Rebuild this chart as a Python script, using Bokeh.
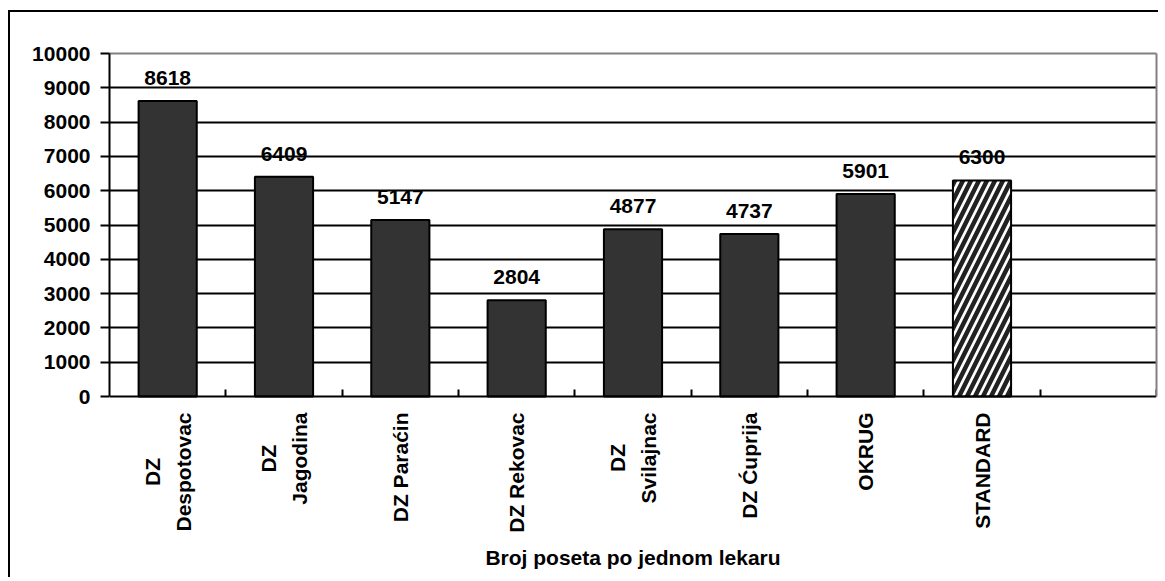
import math
import numpy as np
from bokeh.plotting import figure
from bokeh.models import FixedTicker, ColumnDataSource, Range1d, LinearAxis, Title
from bokeh.embed import file_html
from bokeh.resources import INLINE
from bokeh.core.properties import value

# ---- data ----
categories = ["DZ\nDespotovac", "DZ\nJagodina", "DZ Paraćin", "DZ Rekovac",
              "DZ\nSvilajnac", "DZ Ćuprija", "OKRUG", "STANDARD"]
visits = [8618, 6409, 5147, 2804, 4877, 4737, 5901, 6300]
is_standard = [False, False, False, False, False, False, False, True]
y_ticks = [0, 1000, 2000, 3000, 4000, 5000, 6000, 7000, 8000, 9000, 10000]
x_title = "Broj poseta po jednom lekaru"
n_slots = len(categories) + 1  # one empty slot on the right

# ---- layout (pixels) ----
FRAME_W = 1047
FRAME_H = 490          # frame includes the room for the category names
PLOT_H = 343           # pixel height of the value axis 0..10000
y_min, y_max = y_ticks[0], y_ticks[-1]
y_start = y_min - (y_max - y_min) * (FRAME_H - PLOT_H) / PLOT_H

FONT = value("Liberation Sans")

centers = np.arange(len(categories)) + 0.5
edges = list(np.arange(1, n_slots + 1))

src = ColumnDataSource(dict(
    x=centers,
    top=visits,
    base=[y_min] * len(visits),
    label=[str(v) for v in visits],
    name=categories,
    fill=["white" if s else "#333333" for s in is_standard],
    hatch=["/" if s else " " for s in is_standard],
))

p = figure(frame_width=FRAME_W, frame_height=FRAME_H,
           x_range=Range1d(0, n_slots), y_range=Range1d(y_start, y_max),
           output_backend="svg", toolbar_location=None,
           min_border_left=99, min_border_top=41, min_border_right=2, min_border_bottom=34)
p.styles = {"border-left": "2px solid black", "border-top": "2px solid black",
            "margin-top": "10px", "margin-left": "8px"}

p.background_fill_color = "white"
p.border_fill_color = "white"
p.outline_line_color = None

p.xgrid.visible = False
p.ygrid.ticker = FixedTicker(ticks=y_ticks[1:-1])
p.ygrid.grid_line_color = "black"
p.ygrid.grid_line_width = 2

p.vbar(x="x", top="top", bottom="base", width=0.5, source=src,
       fill_color="fill", line_color="black", line_width=2,
       hatch_pattern="hatch", hatch_color="#222222", hatch_scale=16, hatch_weight=4.5)

p.text(x="x", y="top", text="label", source=src,
       text_align="center", text_baseline="alphabetic", y_offset=-23,
       text_font=FONT, text_font_style="bold", text_font_size="21px", text_color="black")

# category names, rotated, under the x axis line
p.text(x="x", y="base", text="name", source=src, angle=math.pi / 2,
       anchor="center_right", text_align="center", text_baseline="middle",
       y_offset=16, text_line_height=1.35,
       text_font=FONT, text_font_style="bold", text_font_size="21px", text_color="black")

# y axis
ya = p.yaxis[0]
ya.bounds = (y_min, y_max)
ya.ticker = FixedTicker(ticks=y_ticks)
ya.axis_line_color = "black"
ya.axis_line_width = 2
ya.major_tick_line_color = "black"
ya.major_tick_line_width = 2
ya.major_tick_out = 9
ya.major_tick_in = 0
ya.minor_tick_line_color = None
ya.major_label_standoff = 10
ya.major_label_text_font = "Liberation Sans"
ya.major_label_text_font_style = "bold"
ya.major_label_text_font_size = "21px"
ya.major_label_text_color = "black"

# x axis: line at value 0, tick marks at the slot edges
xa = p.xaxis[0]
xa.fixed_location = y_min
xa.ticker = FixedTicker(ticks=[], minor_ticks=edges)
xa.axis_line_color = "black"
xa.axis_line_width = 2
xa.major_tick_in = 0
xa.major_tick_out = 0
xa.minor_tick_in = 7
xa.minor_tick_out = 0
xa.minor_tick_line_color = "black"
xa.minor_tick_line_width = 2
xa.major_label_standoff = 0

# grey plot-area border on top and right
top_ax = LinearAxis(ticker=FixedTicker(ticks=[]), axis_line_color="#808080",
                    axis_line_width=2, major_tick_out=0, major_tick_in=0,
                    minor_tick_out=0, major_label_standoff=0)
p.add_layout(top_ax, "above")
right_ax = LinearAxis(ticker=FixedTicker(ticks=[]), bounds=(y_min, y_max),
                      axis_line_color="#808080", axis_line_width=2,
                      major_tick_out=0, major_tick_in=0, minor_tick_out=0,
                      major_label_standoff=0)
p.add_layout(right_ax, "right")

p.add_layout(Title(text=x_title, align="center", text_font="Liberation Sans",
                   text_font_style="bold", text_font_size="21px", text_color="black",
                   standoff=0), "below")

open("out.html", "w").write(file_html(p, INLINE))
